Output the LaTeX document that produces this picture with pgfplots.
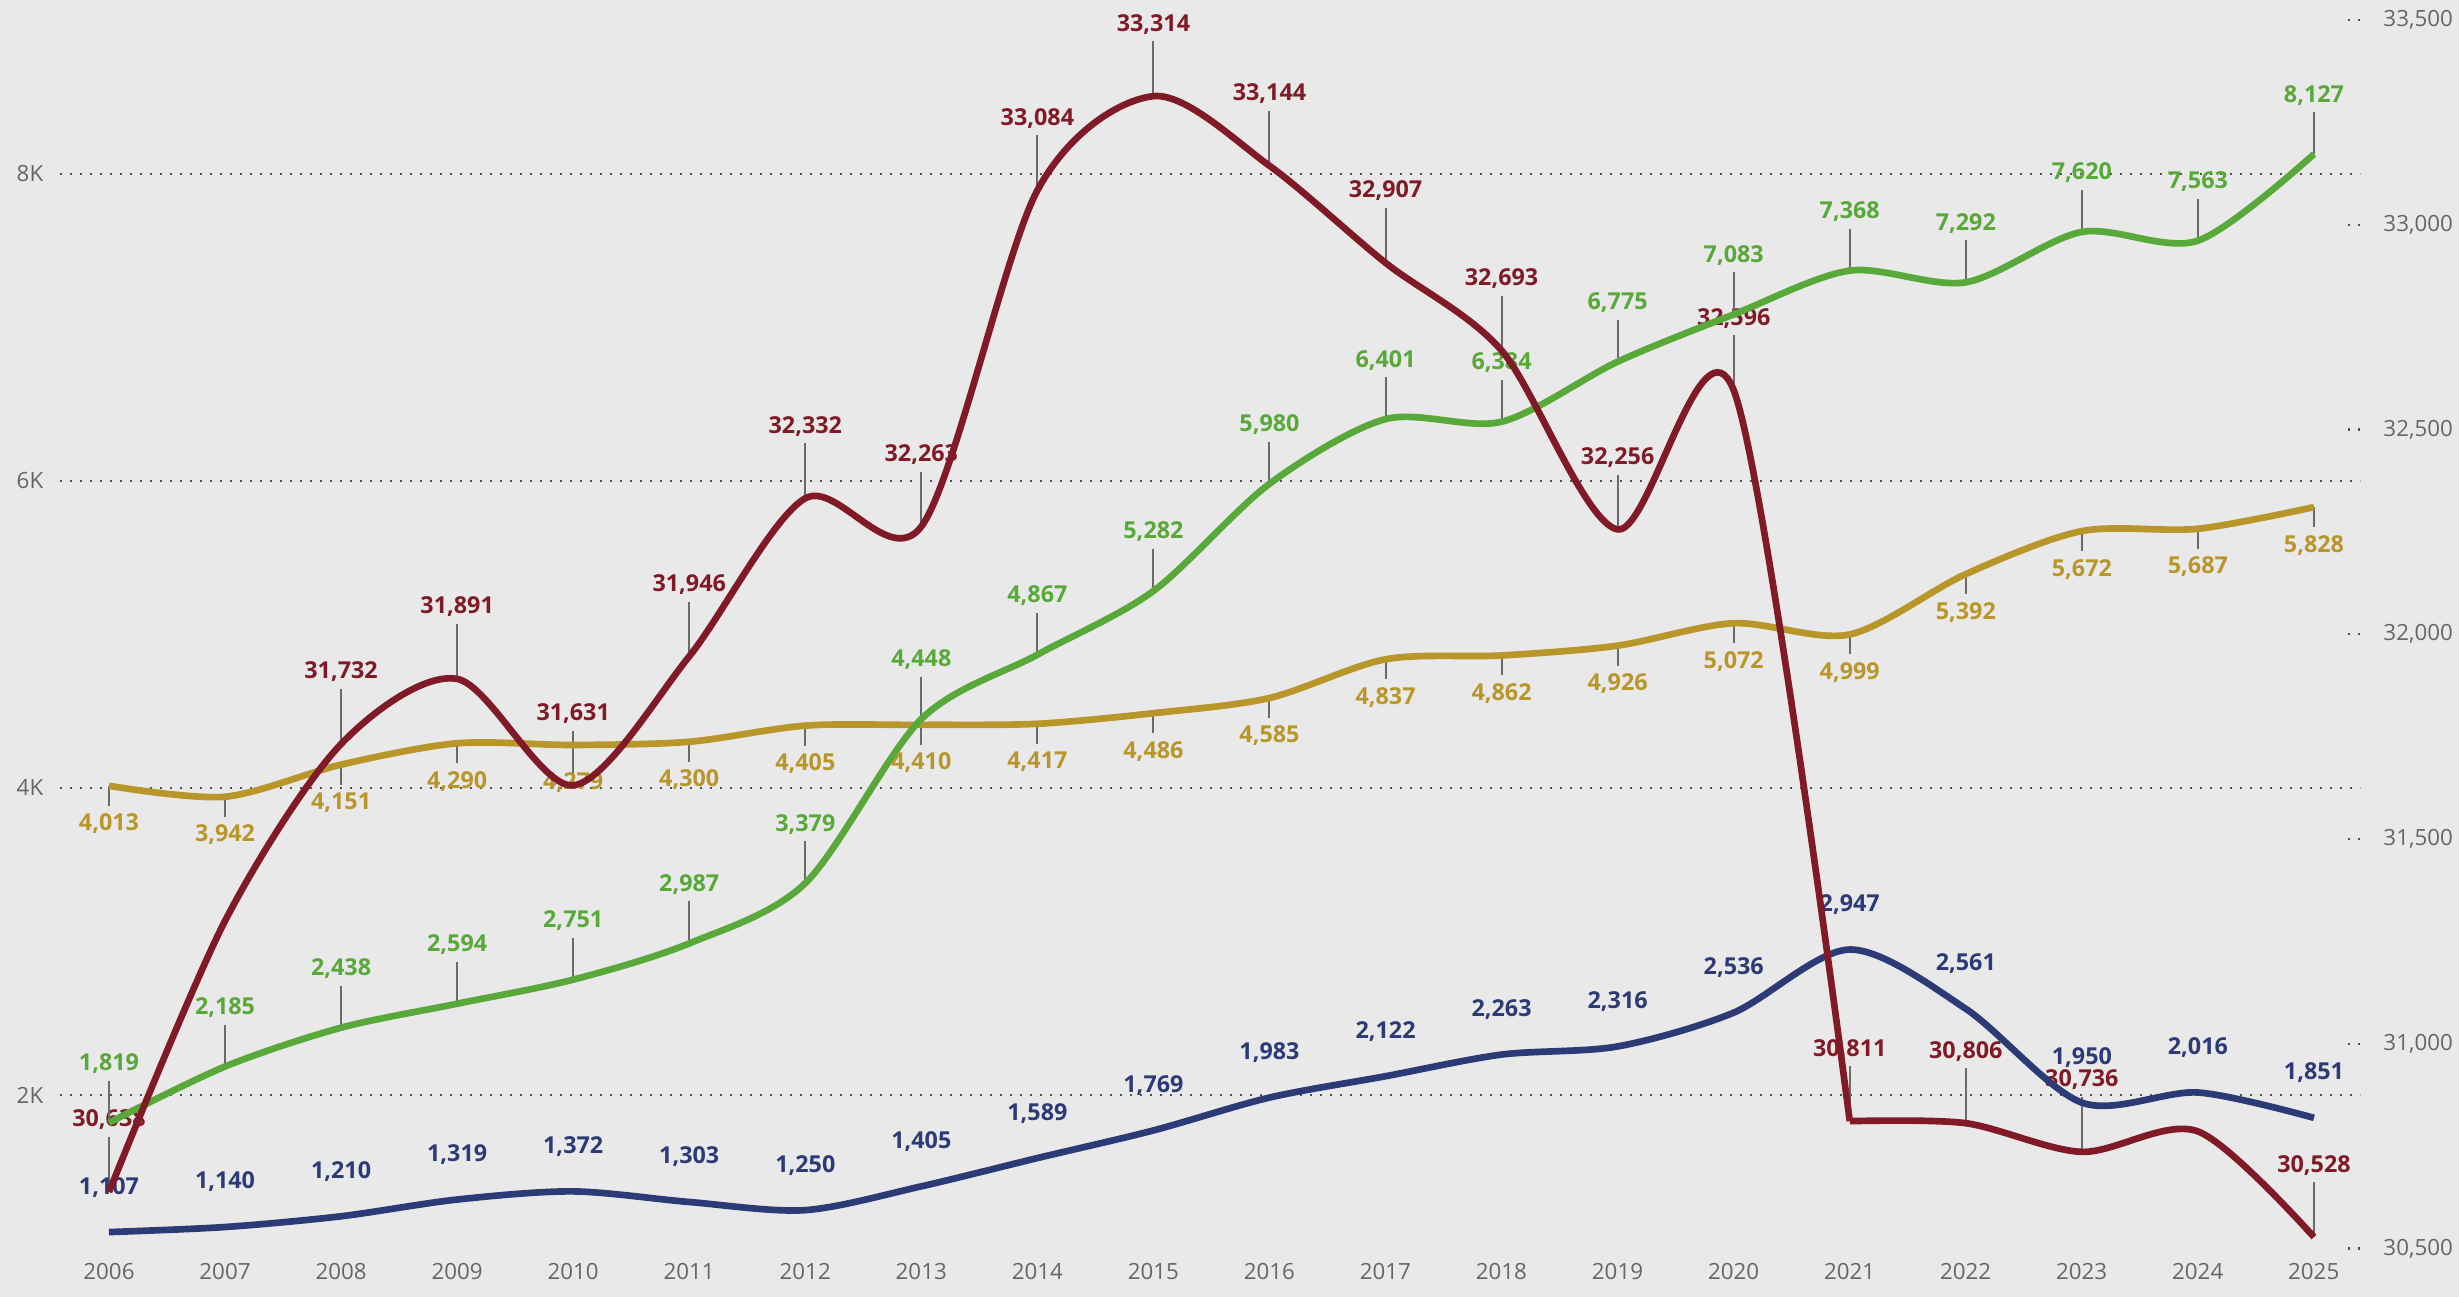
\documentclass[border=0pt]{standalone}
\usepackage{pgfplots}
\usepackage{pgfplotstable}
\pgfplotsset{compat=1.18}
\usepackage{fontspec}
\setmainfont{Open Sans}
\definecolor{bg}{HTML}{E9E9E9}
\definecolor{cgreen}{HTML}{58A83A}
\definecolor{cgold}{HTML}{B8962A}
\definecolor{cred}{HTML}{801A26}
\definecolor{cnavy}{HTML}{2C3A76}
\definecolor{tickgray}{HTML}{666666}
\definecolor{leadgray}{HTML}{6A6A6A}
\definecolor{griddot}{HTML}{505050}

\pgfplotstableread{
year green gold navy red
2006 1819 4013 1107 30638
2007 2185 3942 1140 31300
2008 2438 4151 1210 31732
2009 2594 4290 1319 31891
2010 2751 4279 1372 31631
2011 2987 4300 1303 31946
2012 3379 4405 1250 32332
2013 4448 4410 1405 32263
2014 4867 4417 1589 33084
2015 5282 4486 1769 33314
2016 5980 4585 1983 33144
2017 6401 4837 2122 32907
2018 6384 4862 2263 32693
2019 6775 4926 2316 32256
2020 7083 5072 2536 32596
2021 7368 4999 2947 30811
2022 7292 5392 2561 30806
2023 7620 5672 1950 30736
2024 7563 5687 2016 30786
2025 8127 5828 1851 30528
}\data

% red series split at 2021 (the curve has a corner there)
\pgfplotstableread{
year red
2006 30638
2007 31300
2008 31732
2009 31891
2010 31631
2011 31946
2012 32332
2013 32263
2014 33084
2015 33314
2016 33144
2017 32907
2018 32693
2019 32256
2020 32596
2021 30811
}\redA

\pgfplotstableread{
year red
2021 30811
2022 30806
2023 30736
2024 30786
2025 30528
}\redB

\pgfplotstableread{
year red
2006 30638
2008 31732
2009 31891
2010 31631
2011 31946
2012 32332
2013 32263
2014 33084
2015 33314
2016 33144
2017 32907
2018 32693
2019 32256
2020 32596
2021 30811
2022 30806
2023 30736
2025 30528
}\redlab

\tikzset{
  valfont/.style={font=\fontsize{7}{8}\selectfont\bfseries},
  ticfont/.style={font=\fontsize{6.7}{8}\selectfont, text=tickgray},
}
\pgfplotsset{
  base/.style={scale only axis, width=690pt, height=368.55pt,
    at={(18pt,14.55pt)}, anchor=south west,
    xmin=2005.578, xmax=2025.397,
    /pgf/number format/assume math mode=true},
  leftscale/.style={ymin=1000, ymax=9000},
  rightscale/.style={ymin=30500, ymax=33500},
  labplot/.style n args={2}{draw=none, mark=none, forget plot,
    nodes near coords={\pgfmathprintnumber[fixed,precision=0,1000 sep={,}]{\pgfplotspointmeta}},
    every node near coord/.style={valfont, text=#1, anchor=center, yshift=#2, inner sep=0pt}},
  lin/.style={smooth, tension=0.5, line width=2pt, mark=none, color=#1, line join=round},
}

\begin{document}
\begin{tikzpicture}
\path[use as bounding box, fill=bg] (0,0) rectangle (737.7pt,389.1pt);

% Axis A: left scale, grid and ticks
\begin{axis}[base, leftscale,
  axis line style={draw=none},
  major tick length=0pt,
  xtick pos=bottom, ytick pos=left,
  xtick={2006,2007,...,2025},
  x tick label style={/pgf/number format/1000 sep={}, ticfont, yshift=-1pt},
  ytick={2000,4000,6000,8000},
  yticklabels={2K,4K,6K,8K},
  y tick label style={ticfont, xshift=-1.5pt},
  ymajorgrids,
  grid style={draw=griddot, line width=0.65pt, dash pattern=on 0.6pt off 2.4pt},
]
\addplot[draw=none, forget plot] coordinates {(2006,2000)};
\end{axis}

% Axis B: right scale ticks and red value labels
\begin{axis}[base, rightscale,
  axis x line=none, axis y line*=right,
  axis line style={draw=none},
  scaled y ticks=false,
  ytick={30500,31000,...,33500},
  yticklabel={\pgfmathprintnumber[fixed,precision=0,1000 sep={,}]{\tick}},
  tick align=inside, major tick length=4.5pt,
  ytick style={draw=griddot, line width=0.65pt, dash pattern=on 0.6pt off 2.4pt},
  y tick label style={ticfont, xshift=3.5pt},
]
\addplot[labplot={cred}{21.6pt}, error bars/.cd, y dir=plus, y fixed=134, error mark=none,
  error bar style={draw=leadgray, line width=0.6pt, solid}]
  table[x=year, y=red] {\redlab};
\end{axis}

% Axis C: left scale series
\begin{axis}[base, leftscale, hide axis]
\addplot[labplot={cgreen}{17.7pt}, error bars/.cd, y dir=plus, y fixed=273, error mark=none,
  error bar style={draw=leadgray, line width=0.6pt, solid}]
  table[x=year, y=green] {\data};
\addplot[labplot={cgold}{-11.4pt}, error bars/.cd, y dir=minus, y fixed=130, error mark=none,
  error bar style={draw=leadgray, line width=0.6pt, solid}]
  table[x=year, y=gold] {\data};
\addplot[labplot={cnavy}{13.5pt}] table[x=year, y=navy] {\data};
\addplot[lin=cgold] table[x=year, y=gold] {\data};
\addplot[lin=cgreen] table[x=year, y=green] {\data};
\addplot[lin=cnavy] table[x=year, y=navy] {\data};
\end{axis}

% Axis D: right scale red line
\begin{axis}[base, rightscale, hide axis]
\addplot[lin=cred] table[x=year, y=red] {\redA};
\addplot[lin=cred] table[x=year, y=red] {\redB};
\end{axis}
\end{tikzpicture}
\end{document}
